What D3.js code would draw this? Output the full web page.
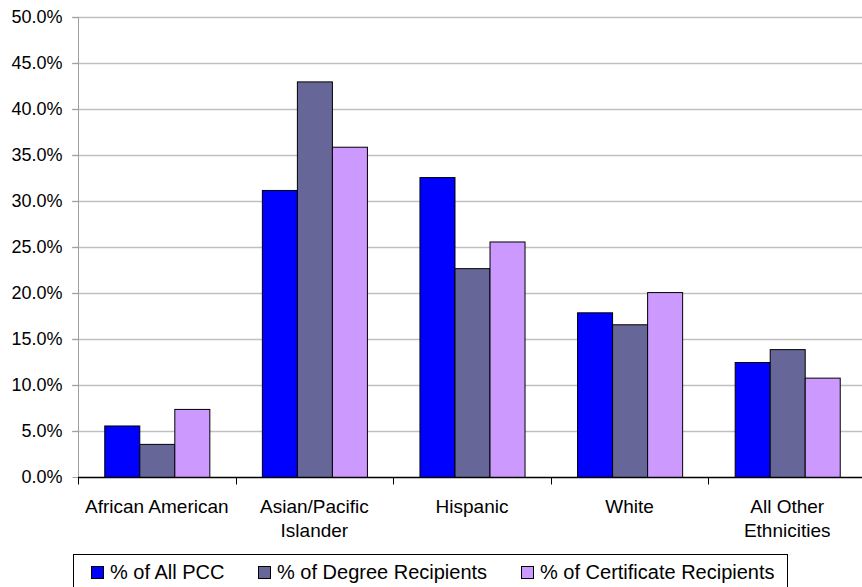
<!DOCTYPE html>
<html>
<head>
<meta charset="utf-8">
<script src="https://cdn.jsdelivr.net/npm/d3@7"></script>
<style>
  html, body { margin: 0; padding: 0; background: #fff; }
  svg { display: block; font-family: "Liberation Sans", Arial, sans-serif; }
</style>
</head>
<body>
<svg id="chart" width="862" height="587"></svg>
<script>
// Share of each ethnic group, in percent
const categories = [["African American"], ["Asian/Pacific", "Islander"], ["Hispanic"], ["White"], ["All Other", "Ethnicities"]];
const seriesNames = ["% of All PCC", "% of Degree Recipients", "% of Certificate Recipients"];
const allPcc      = [5.6, 31.2, 32.6, 17.9, 12.5];
const degree      = [3.6, 43.0, 22.7, 16.6, 13.9];
const certificate = [7.4, 35.9, 25.6, 20.1, 10.8];
const yTicks = [0, 5, 10, 15, 20, 25, 30, 35, 40, 45, 50];
const seriesColors = ["#0000ff", "#666699", "#cc99ff"];

const seriesValues = [allPcc, degree, certificate];
const catKeys = categories.map(c => c.join(" "));
const rows = catKeys.map((k, i) => ({
  key: k,
  lines: categories[i],
  values: seriesNames.map((s, j) => ({ series: s, value: seriesValues[j][i], color: seriesColors[j] }))
}));

const svg = d3.select("#chart");
const W = 862;
const plot = { left: 78, right: 866, top: 17, bottom: 477 };

const x0 = d3.scaleBand().domain(catKeys).range([plot.left, plot.right]).padding(0);
const x1 = d3.scaleBand().domain(seriesNames).range([0, x0.bandwidth()]).paddingInner(0).paddingOuter(0.75);
const y = d3.scaleLinear().domain([0, 50]).range([plot.bottom, plot.top]);

// gridlines with short outer ticks
const grid = svg.append("g");
grid.selectAll("line").data(yTicks.filter(t => t > 0)).join("line")
  .attr("x1", plot.left - 6).attr("x2", W)
  .attr("y1", d => Math.round(y(d)) + 0.5).attr("y2", d => Math.round(y(d)) + 0.5)
  .attr("stroke", "#c0c0c0").attr("stroke-width", 1.5);

// y axis
const yAxis = svg.append("g")
  .attr("transform", `translate(${plot.left + 0.5},0)`)
  .call(d3.axisLeft(y).tickValues(yTicks).tickSize(6).tickPadding(10).tickFormat(d => d.toFixed(1) + "%"));
yAxis.select(".domain").attr("stroke", "#a0a0a0").attr("d", `M0,${plot.top}V${plot.bottom}`);
yAxis.selectAll(".tick line").attr("stroke", "#a0a0a0");
yAxis.selectAll(".tick text").attr("font-size", 18).attr("fill", "#000")
  .attr("font-family", "'Liberation Sans', Arial, sans-serif");

// bars
const groups = svg.append("g").selectAll("g").data(rows).join("g")
  .attr("transform", d => `translate(${x0(d.key)},0)`);
groups.selectAll("rect").data(d => d.values).join("rect")
  .attr("x", d => x1(d.series) + 0.5)
  .attr("width", x1.bandwidth())
  .attr("y", d => y(d.value) + 0.5)
  .attr("height", d => y(0) - y(d.value))
  .attr("fill", d => d.color)
  .attr("stroke", "#000").attr("stroke-width", 1);

// x axis baseline and category ticks
const xAxis = svg.append("g").attr("transform", `translate(0,${plot.bottom + 0.5})`);
xAxis.append("line").attr("x1", plot.left).attr("x2", W).attr("y1", 0).attr("y2", 0)
  .attr("stroke", "#000").attr("stroke-width", 1.5);
xAxis.selectAll("line.cat").data(catKeys).join("line").attr("class", "cat")
  .attr("x1", d => Math.round(x0(d)) + 0.5).attr("x2", d => Math.round(x0(d)) + 0.5)
  .attr("y1", 0).attr("y2", 7).attr("stroke", "#000");

const labels = svg.append("g").selectAll("text").data(rows).join("text")
  .attr("x", d => x0(d.key) + x0.bandwidth() / 2)
  .attr("y", 513)
  .attr("text-anchor", "middle")
  .attr("font-size", 19).attr("fill", "#000");
labels.selectAll("tspan").data(d => d.lines).join("tspan")
  .attr("x", function () { return d3.select(this.parentNode).attr("x"); })
  .attr("dy", (d, i) => i === 0 ? 0 : 23.5)
  .text(d => d);

// legend
const legend = svg.append("g");
legend.append("rect").attr("x", 73.5).attr("y", 554.5).attr("width", 714).attr("height", 50)
  .attr("fill", "#fff").attr("stroke", "#000").attr("stroke-width", 1);
const legendX = [91, 258, 521];
const items = legend.selectAll("g.item").data(seriesNames).join("g").attr("class", "item")
  .attr("transform", (d, i) => `translate(${legendX[i]},566)`);
items.append("rect").attr("x", 0.5).attr("y", 0.5).attr("width", 12).attr("height", 12)
  .attr("fill", (d, i) => seriesColors[i]).attr("stroke", "#000");
items.append("text").attr("x", 19).attr("y", 12.5).attr("font-size", 20).attr("fill", "#000").text(d => d);
</script>
</body>
</html>
